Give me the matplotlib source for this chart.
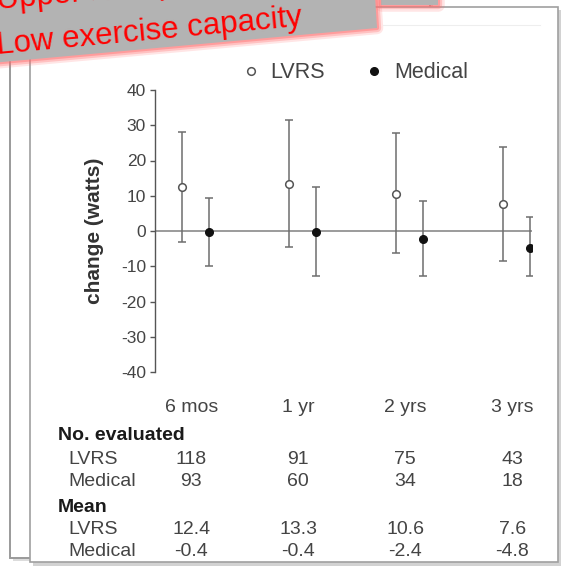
import numpy as np
import matplotlib.pyplot as plt
from matplotlib.patches import Polygon, Rectangle
from matplotlib.transforms import blended_transform_factory

plt.rcParams['font.family'] = ['Liberation Sans', 'DejaVu Sans']
plt.rcParams['axes.unicode_minus'] = False

periods = ['6 mos', '1 yr', '2 yrs', '3 yrs']
lvrs_mean = [12.4, 13.3, 10.6, 7.6]
lvrs_upper = [28.0, 31.5, 27.7, 23.8]
lvrs_lower = [-3.0, -4.6, -6.2, -8.5]
med_mean = [-0.4, -0.4, -2.4, -4.8]
med_upper = [9.4, 12.4, 8.5, 3.9]
med_lower = [-9.8, -12.8, -12.8, -12.8]
lvrs_n = [118, 91, 75, 43]
med_n = [93, 60, 34, 18]

W, H = 565, 566
fig = plt.figure(figsize=(W / 100, H / 100), dpi=100)

# slide background drawn in pixel units
bg = fig.add_axes([0, 0, 1, 1], zorder=0)
bg.set_xlim(0, W)
bg.set_ylim(H, 0)
bg.axis('off')

# back slide
bg.add_patch(Rectangle((13, -20), 420, 581, facecolor='#bbbbbb', edgecolor='none', alpha=0.5))
bg.add_patch(Rectangle((10, -20), 420, 578, facecolor='white', edgecolor='#9a9a9a', lw=1.4))
# front slide with shadow
bg.add_patch(Rectangle((33, 10), 528, 556, facecolor='#b5b5b5', edgecolor='none', alpha=0.6))
bg.add_patch(Rectangle((30, 7), 528, 555, facecolor='white', edgecolor='#a0a0a0', lw=1.2))
bg.plot([383, 540], [25, 25], color='#eeeeee', lw=0.8)

# grey title tag with a red glow
def tag(points):
    for lw, a in [(9, 0.18), (6, 0.3), (3, 0.45)]:
        bg.add_patch(Polygon(points, closed=True, facecolor='none', edgecolor='#ff7070',
                             lw=lw, alpha=a, joinstyle='round'))
    bg.add_patch(Polygon(points, closed=True, facecolor='#b3b3b3', edgecolor='none'))

tag([(381, -10), (438, -10), (438, 5), (381, 5)])
tag([(-20, 64), (377, 28), (374, -20), (-20, -20)])

bg.text(-3, 9, 'Upper lobe predominant emphysema', color='#ff0000', fontsize=22.5,
        rotation=5.3, rotation_mode='anchor', ha='left', va='baseline')
bg.text(-3, 54, 'Low exercise capacity', color='#ff0000', fontsize=22.5,
        rotation=5.3, rotation_mode='anchor', ha='left', va='baseline')

# main chart
ax = fig.add_axes([155 / W, 1 - 372 / H, (532 - 155) / W, (372 - 90) / H], zorder=1)
ax.set_facecolor('none')
x = np.arange(len(periods))
off = 0.126

ax.axhline(0, color='#8a8a8a', lw=1.2, zorder=1)
ax.errorbar(x - off, lvrs_mean,
            yerr=[np.subtract(lvrs_mean, lvrs_lower), np.subtract(lvrs_upper, lvrs_mean)],
            fmt='none', ecolor='#6e6e6e', elinewidth=1.1, capsize=2.6, capthick=1.1, zorder=2)
ax.errorbar(x + off, med_mean,
            yerr=[np.subtract(med_mean, med_lower), np.subtract(med_upper, med_mean)],
            fmt='none', ecolor='#6e6e6e', elinewidth=1.1, capsize=2.6, capthick=1.1, zorder=2)
ax.plot(x - off, lvrs_mean, 'o', ms=5.5, mfc='white', mec='#555555', mew=1.1,
        label='LVRS', zorder=3)
ax.plot(x + off, med_mean, 'o', ms=5.5, mfc='#111111', mec='#111111', mew=1.0,
        label='Medical', zorder=3)

ax.set_xlim(-0.378, 3.145)
ax.set_ylim(-40, 40)
ax.set_yticks(np.arange(-40, 41, 10))
ax.set_xticks([])
for s in ['top', 'right', 'bottom']:
    ax.spines[s].set_visible(False)
ax.spines['left'].set_color('#555555')
ax.spines['left'].set_linewidth(1.0)
ax.tick_params(axis='y', direction='out', length=3.5, width=1.0, color='#555555',
               labelsize=12.5, labelcolor='#444444', pad=3)

bg.text(95, 231, 'change (watts)', rotation=90, ha='center', va='center',
        fontsize=15, fontweight='bold', color='#333333')

ax.legend(loc='center', bbox_to_anchor=(355 / W, 1 - 73 / H), bbox_transform=fig.transFigure,
          ncol=2, frameon=False, fontsize=15.5, handlelength=0.8, handletextpad=0.5,
          columnspacing=1.9, borderpad=0, labelcolor='#444444')

# summary table under the chart
tt = blended_transform_factory(ax.transData, bg.transData)
col = x - 0.04
for i, p in enumerate(periods):
    bg.text(col[i], 408, p, transform=tt, ha='center', va='center', fontsize=14, color='#444444')
    bg.text(col[i], 460, str(lvrs_n[i]), transform=tt, ha='center', va='center', fontsize=14, color='#444444')
    bg.text(col[i], 482, str(med_n[i]), transform=tt, ha='center', va='center', fontsize=14, color='#444444')
    bg.text(col[i], 530, f'{lvrs_mean[i]:.1f}', transform=tt, ha='center', va='center', fontsize=14, color='#444444')
    bg.text(col[i], 552, f'{med_mean[i]:.1f}', transform=tt, ha='center', va='center', fontsize=14, color='#444444')

bg.text(58, 435, 'No. evaluated', ha='left', va='center', fontsize=14, fontweight='bold', color='#1a1a1a')
bg.text(68, 460, 'LVRS', ha='left', va='center', fontsize=14, color='#444444')
bg.text(68, 482, 'Medical', ha='left', va='center', fontsize=14, color='#444444')
bg.text(58, 507, 'Mean', ha='left', va='center', fontsize=14, fontweight='bold', color='#1a1a1a')
bg.text(68, 530, 'LVRS', ha='left', va='center', fontsize=14, color='#444444')
bg.text(68, 552, 'Medical', ha='left', va='center', fontsize=14, color='#444444')

fig.savefig('out.png', dpi=100)
